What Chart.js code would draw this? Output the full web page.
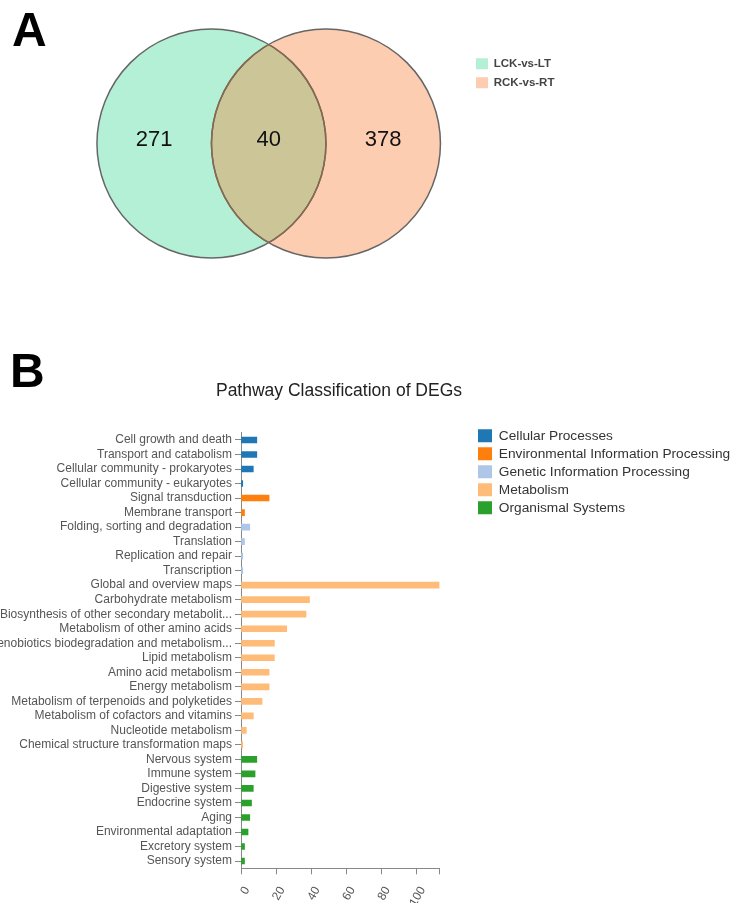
<!DOCTYPE html>
<html>
<head>
<meta charset="utf-8">
<title>DEG Venn and pathway classification</title>
<script src="https://cdn.jsdelivr.net/npm/chart.js@4.4.1/dist/chart.umd.min.js"></script>
<style>
    html, body { margin: 0; padding: 0; background: #fff; }
    #page { position: relative; width: 734px; height: 903px; overflow: hidden; font-family: "Liberation Sans", Arial, sans-serif; }
    .panel-tag { position: absolute; font-weight: bold; font-size: 48px; line-height: 48px; color: #000; }
    #canvasVenn { position: absolute; left: 0; top: 0; }
    #canvasPathway { position: absolute; left: 0; top: 320px; }
</style>
</head>
<body>
<div id="page">
    <canvas id="canvasVenn" width="734" height="320"></canvas>
    <canvas id="canvasPathway" width="734" height="583"></canvas>
    <div class="panel-tag" style="left:12px; top:6px">A</div>
    <div class="panel-tag" style="left:10px; top:347px">B</div>
</div>
<script>
    // ---- A : Venn ----
    const vennSets = ["LCK-vs-LT", "RCK-vs-RT"];
    const vennColors = ["#b4f0d6", "#fdcdb2"];
    const vennOverlapColor = "#cbc598";
    const vennCenterX = [-0.5, 0.5];      // circle centres, in radius units
    const vennRadius = 1;
    const vennCounts = [271, 40, 378];    // only left, both, only right
    const vennCountX = [-1, 0, 1];
    const vennCountY = 0.035;

    // ---- B : KEGG pathway classification ----
    const pathwayNames = [
        "Cell growth and death",
        "Transport and catabolism",
        "Cellular community - prokaryotes",
        "Cellular community - eukaryotes",
        "Signal transduction",
        "Membrane transport",
        "Folding, sorting and degradation",
        "Translation",
        "Replication and repair",
        "Transcription",
        "Global and overview maps",
        "Carbohydrate metabolism",
        "Biosynthesis of other secondary metabolit...",
        "Metabolism of other amino acids",
        "Xenobiotics biodegradation and metabolism...",
        "Lipid metabolism",
        "Amino acid metabolism",
        "Energy metabolism",
        "Metabolism of terpenoids and polyketides",
        "Metabolism of cofactors and vitamins",
        "Nucleotide metabolism",
        "Chemical structure transformation maps",
        "Nervous system",
        "Immune system",
        "Digestive system",
        "Endocrine system",
        "Aging",
        "Environmental adaptation",
        "Excretory system",
        "Sensory system"
    ];
    const pathwayCounts = [9, 9, 7, 1, 16, 2, 5, 2, 1, 1, 113, 39, 37, 26, 19, 19, 16, 16, 12, 7, 3, 1, 9, 8, 7, 6, 5, 4, 2, 2];
    const pathwayGroup = [0, 0, 0, 0, 1, 1, 2, 2, 2, 2, 3, 3, 3, 3, 3, 3, 3, 3, 3, 3, 3, 3, 4, 4, 4, 4, 4, 4, 4, 4];
    const groupNames = ["Cellular Processes", "Environmental Information Processing", "Genetic Information Processing", "Metabolism", "Organismal Systems"];
    const groupColors = ["#1f77b4", "#ff7f0e", "#aec7e8", "#ffbb78", "#2ca02c"];
    const xTickValues = [0, 20, 40, 60, 80, 100];
    const xMax = 113;

    const FONT = "'Liberation Sans', Arial, sans-serif";
    Chart.defaults.font.family = FONT;

    // legend / title are moved to where the original figure has them
    function blockPlacer(pos) {
        return {
            id: "blockPlacer",
            afterLayout(chart) {
                const lg = chart.legend;
                if (lg && pos.legend) {
                    lg.left = pos.legend[0] - pos.pad;
                    lg.top = pos.legend[1] - pos.pad;
                    lg.right = lg.left + 300;
                    lg.bottom = lg.top + 200;
                }
                const tb = chart.titleBlock;
                if (tb && pos.titleX !== undefined) {
                    const half = (tb.right - tb.left) / 2;
                    tb.left = pos.titleX - half;
                    tb.right = pos.titleX + half;
                }
            }
        };
    }

    function radiusPx(chart) {
        const s = chart.scales.x;
        return s.getPixelForValue(vennRadius) - s.getPixelForValue(0);
    }

    // circles, overlap lens and region counts, placed from the bubble points
    const vennPlugin = {
        id: "vennCircles",
        beforeDatasetsDraw(chart) {
            const ctx = chart.ctx;
            const pts = chart.data.datasets.map((d, i) => chart.getDatasetMeta(i).data[0]);
            const r = radiusPx(chart);
            const circle = (p) => { ctx.beginPath(); ctx.arc(p.x, p.y, r, 0, Math.PI * 2); };

            pts.forEach((p, i) => {
                circle(p);
                ctx.fillStyle = vennColors[i];
                ctx.fill();
            });

            ctx.save();
            circle(pts[0]); ctx.clip();
            circle(pts[1]); ctx.fillStyle = vennOverlapColor; ctx.fill();
            ctx.restore();

            ctx.lineWidth = 1.5;
            pts.forEach((p) => {
                circle(p);
                ctx.strokeStyle = "#666";
                ctx.stroke();
            });

            // inner arcs look brownish in the original
            [[1, 0], [0, 1]].forEach(([clipIdx, arcIdx]) => {
                ctx.save();
                circle(pts[clipIdx]); ctx.clip();
                circle(pts[arcIdx]); ctx.strokeStyle = "#86694f"; ctx.stroke();
                ctx.restore();
            });

            const sx = chart.scales.x, sy = chart.scales.y;
            ctx.save();
            ctx.fillStyle = "#111";
            ctx.font = "22px " + FONT;
            ctx.textAlign = "center";
            ctx.textBaseline = "middle";
            vennCounts.forEach((n, i) => {
                ctx.fillText(String(n), sx.getPixelForValue(vennCountX[i]), sy.getPixelForValue(vennCountY));
            });
            ctx.restore();
        }
    };

    new Chart(document.getElementById("canvasVenn"), {
        type: "bubble",
        data: {
            datasets: vennSets.map((name, i) => ({
                label: name,
                data: [{ x: vennCenterX[i], y: 0, r: 0 }],
                backgroundColor: vennColors[i],
                borderColor: "#666",
                borderWidth: 0,
                hoverRadius: 0,
                clip: false
            }))
        },
        options: {
            responsive: false,
            animation: false,
            events: [],
            layout: { padding: 0, autoPadding: false },
            scales: {
                x: { display: false, min: -2.3467, max: 4.0638 },
                y: { display: false, min: -1.5406, max: 1.2541 }
            },
            plugins: {
                tooltip: { enabled: false },
                legend: {
                    position: "chartArea",
                    align: "start",
                    labels: {
                        boxWidth: 12,
                        boxHeight: 11,
                        padding: 7.5,
                        color: "#444",
                        font: { size: 11.5, weight: "bold" },
                        generateLabels: (chart) => chart.data.datasets.map((d, i) => ({
                            text: d.label,
                            fillStyle: d.backgroundColor,
                            strokeStyle: d.backgroundColor,
                            lineWidth: 0,
                            fontColor: "#444",
                            datasetIndex: i
                        }))
                    }
                }
            }
        },
        plugins: [vennPlugin, blockPlacer({ legend: [476, 58], pad: 7.5 })]
    });

    // ---- B chart ----
    new Chart(document.getElementById("canvasPathway"), {
        type: "bar",
        data: {
            labels: pathwayNames,
            datasets: groupNames.map((g, gi) => ({
                label: g,
                data: pathwayCounts.map((v, i) => pathwayGroup[i] === gi ? v : null),
                backgroundColor: groupColors[gi],
                borderWidth: 0,
                grouped: false,
                barThickness: 6
            }))
        },
        options: {
            indexAxis: "y",
            responsive: false,
            animation: false,
            events: [],
            layout: { padding: { left: 0, right: 294.5, top: 0, bottom: 0 }, autoPadding: false },
            scales: {
                y: {
                    type: "category",
                    offset: true,
                    border: { color: "#888", width: 1 },
                    grid: { drawOnChartArea: false, offset: false, tickLength: 6, color: "#888" },
                    ticks: { color: "#555", font: { size: 12 }, padding: 3, autoSkip: false },
                    afterFit: (s) => { s.width = 241; }
                },
                x: {
                    type: "linear",
                    min: 0,
                    max: xMax,
                    border: { color: "#888", width: 1 },
                    grid: { drawOnChartArea: false, tickLength: 6, color: "#888" },
                    ticks: {
                        stepSize: 20,
                        autoSkip: false,
                        minRotation: 60,
                        maxRotation: 60,
                        color: "#555",
                        font: { size: 12 },
                        padding: 10,
                        labelOffset: 6,
                        callback: (v) => xTickValues.includes(v) ? String(v) : ""
                    },
                    afterFit: (s) => { s.height = 34.7; }
                }
            },
            plugins: {
                tooltip: { enabled: false },
                title: {
                    display: true,
                    text: "Pathway Classification of DEGs",
                    color: "#222",
                    font: { size: 17.5, weight: "normal", lineHeight: 1.2 },
                    padding: { top: 61, bottom: 30.7 }
                },
                legend: {
                    position: "chartArea",
                    align: "start",
                    labels: {
                        boxWidth: 14,
                        boxHeight: 13,
                        padding: 4.3,
                        color: "#333",
                        font: { size: 13.7 }
                    }
                }
            }
        },
        plugins: [blockPlacer({ legend: [478, 109], pad: 4.3, titleX: 339 })]
    });
</script>
</body>
</html>
